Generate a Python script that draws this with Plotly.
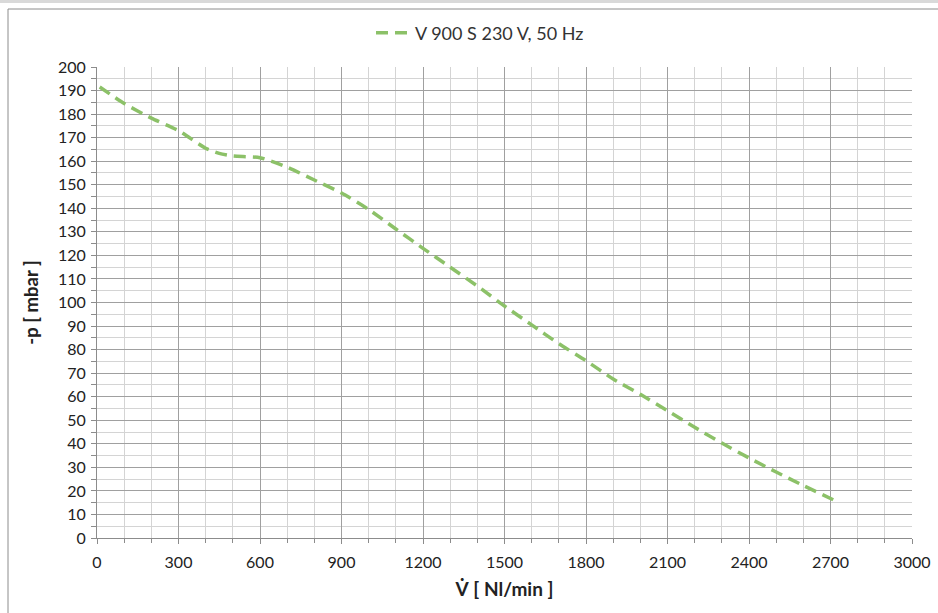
import plotly.graph_objects as go

# Data
flow_nl_min = [10, 100, 200, 300, 400, 450, 500, 600, 700, 800, 900, 1000, 1100, 1200,
               1300, 1400, 1500, 1600, 1700, 1800, 1900, 2000, 2100, 2200, 2300, 2400,
               2500, 2600, 2720]
pressure_mbar = [191.5, 184.5, 178.3, 173.0, 165.5, 163.3, 162.2, 161.5, 157.5, 152.0,
                 146.5, 139.5, 131.2, 123.0, 115.0, 107.0, 98.5, 90.5, 82.5, 75.3, 67.5,
                 61.0, 54.0, 47.0, 40.3, 34.0, 28.0, 22.3, 15.7]
x_tick_values = list(range(0, 3001, 300))
y_tick_values = list(range(0, 201, 10))
series_name = "V 900 S 230 V, 50 Hz"
x_title = "V\u0307 [ Nl/min ]"
y_title = "-p [ mbar ]"

FONT = "Lato, Carlito, 'Open Sans', sans-serif"

fig = go.Figure()
fig.add_trace(go.Scatter(
    x=flow_nl_min, y=pressure_mbar, mode="lines", name=series_name,
    line=dict(color="#8CC168", width=3.5, dash="12px,7px", shape="spline", smoothing=0.6),
))

W, H = 938, 613
L, R, T, B = 97, 26, 67, 75
pw, ph = W - L - R, H - T - B

def px(xp):
    return (xp - L) / pw

def py(yp):
    return (H - B - yp) / ph

fig.update_layout(
    width=W, height=H,
    margin=dict(l=L, r=R, t=T, b=B, pad=0, autoexpand=False),
    paper_bgcolor="white", plot_bgcolor="white",
    font=dict(family=FONT, size=16, color="#222222"),
    showlegend=True,
    legend=dict(orientation="h", x=px(480), xanchor="center", y=py(33), yanchor="middle",
                font=dict(size=18, color="#333333"), bgcolor="rgba(0,0,0,0)",
                itemwidth=34),
    xaxis=dict(
        range=[0, 3000], tickmode="array", tickvals=x_tick_values,
        ticks="outside", ticklen=5, tickcolor="#8c8c8c",
        showline=True, linecolor="#8c8c8c", linewidth=1,
        showgrid=True, gridcolor="#a0a0a0", gridwidth=1,
        minor=dict(dtick=100, tick0=0, showgrid=True, gridcolor="#d4d4d4",
                   ticks="outside", ticklen=4, tickcolor="#8c8c8c"),
        zeroline=False, tickfont=dict(size=16), ticklabelstandoff=5,
        automargin=False,
        title=dict(text="<b>" + x_title + "</b>", font=dict(size=19), standoff=12),
    ),
    yaxis=dict(
        range=[0, 200], tickmode="array", tickvals=y_tick_values,
        ticks="outside", ticklen=5, tickcolor="#8c8c8c",
        showline=True, linecolor="#8c8c8c", linewidth=1,
        showgrid=True, gridcolor="#a0a0a0", gridwidth=1,
        minor=dict(dtick=5, tick0=0, showgrid=True, gridcolor="#d4d4d4",
                   ticks="outside", ticklen=5, tickcolor="#8c8c8c"),
        zeroline=False, tickfont=dict(size=16), ticklabelstandoff=2,
        automargin=False,
        title=dict(text="<b>" + y_title + "</b>", font=dict(size=18.5), standoff=14),
    ),
    shapes=[
        dict(type="rect", xref="paper", yref="paper", x0=px(-5), x1=px(945),
             y0=py(3), y1=py(-2), fillcolor="#d9d9d9", line=dict(width=0), layer="above"),
        dict(type="rect", xref="paper", yref="paper", x0=px(8), x1=px(950),
             y0=py(640), y1=py(9), fillcolor="rgba(0,0,0,0)",
             line=dict(color="#8c8c8c", width=1), layer="below"),
    ],
)

fig.write_html(
    "out.html",
    config={"displayModeBar": False},
    post_script="document.body.style.margin='0';document.body.style.padding='0';",
)
